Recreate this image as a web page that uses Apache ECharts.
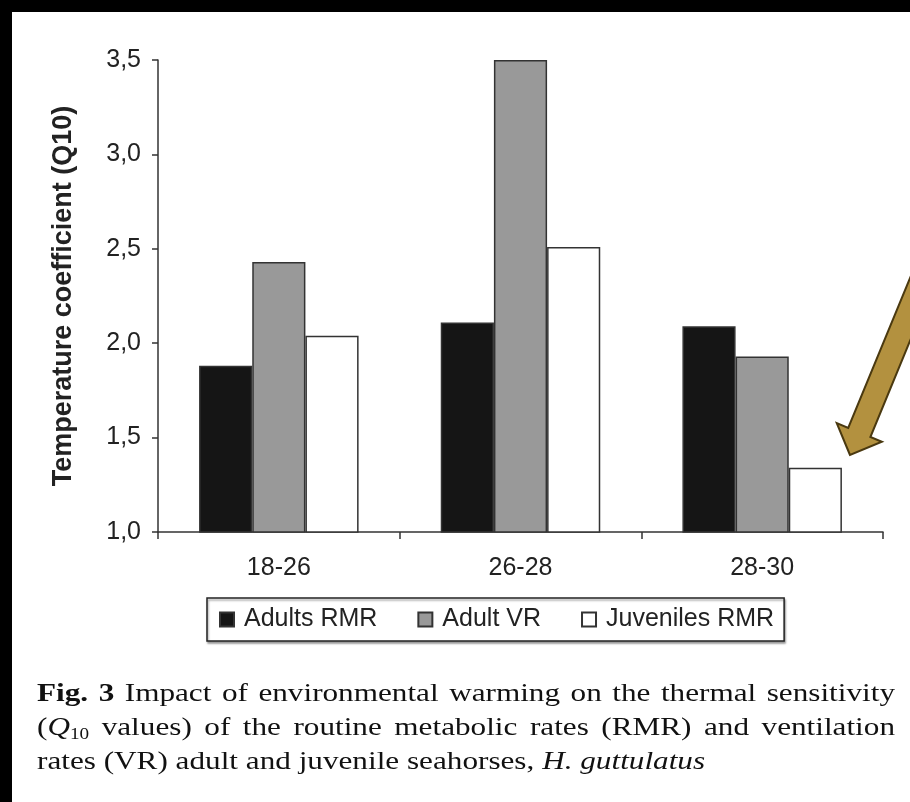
<!DOCTYPE html>
<html>
<head>
<meta charset="utf-8">
<script src="https://cdn.jsdelivr.net/npm/echarts@6/dist/echarts.min.js"></script>
<style>
  html, body { margin: 0; padding: 0; background: #fff; }
  #wrap { position: relative; width: 910px; height: 802px; overflow: hidden; }
  #chart { position: absolute; left: 0; top: 0; width: 910px; height: 802px; }
  .caption {
    position: absolute; left: 37px; width: 715px; top: 676px;
    transform: scaleX(1.2); transform-origin: 0 0;
    font-family: "Liberation Serif", "DejaVu Serif", serif;
    font-size: 26px; line-height: 34px; color: #111;
  }
  .caption div { white-space: nowrap; }
  .caption .j { text-align: justify; text-align-last: justify; white-space: normal; }
  .caption sub { font-size: 16px; vertical-align: -4px; line-height: 0; }
</style>
</head>
<body>
<div id="wrap">
  <div id="chart"></div>
  <div class="caption">
    <div class="j"><b>Fig. 3</b> Impact of environmental warming on the thermal sensitivity</div>
    <div class="j">(<i>Q</i><sub>10</sub> values) of the routine metabolic rates (RMR) and ventilation</div>
    <div>rates (VR) adult and juvenile seahorses, <i>H. guttulatus</i></div>
  </div>
</div>
<script>
// data
const categories = ['18-26', '26-28', '28-30']
const adultsRMR = [1.88, 2.11, 2.09]
const adultVR = [2.43, 3.50, 1.93]
const juvenilesRMR = [2.04, 2.51, 1.34]

const chart = echarts.init(document.getElementById('chart'))

// golden arrow pointing at the last juvenile bar
const tip = [850, 455]
const dir = [0.381, -0.924]
const nrm = [0.924, 0.381]
const headLen = 24.4, headHalf = 24.4, shaftHalf = 12, shaftLen = 200
const base = [tip[0] + dir[0] * headLen, tip[1] + dir[1] * headLen]
const tail = [base[0] + dir[0] * shaftLen, base[1] + dir[1] * shaftLen]
const arrowPts = [
  tip,
  [base[0] - nrm[0] * headHalf, base[1] - nrm[1] * headHalf],
  [base[0] - nrm[0] * shaftHalf, base[1] - nrm[1] * shaftHalf],
  [tail[0] - nrm[0] * shaftHalf, tail[1] - nrm[1] * shaftHalf],
  [tail[0] + nrm[0] * shaftHalf, tail[1] + nrm[1] * shaftHalf],
  [base[0] + nrm[0] * shaftHalf, base[1] + nrm[1] * shaftHalf],
  [base[0] + nrm[0] * headHalf, base[1] + nrm[1] * headHalf]
]

const barStyle = (color) => ({
  color: color,
  borderColor: '#333',
  borderWidth: 1.5
})

const option = {
  animation: false,
  backgroundColor: '#fff',
  textStyle: { fontFamily: '"Liberation Sans", Arial, sans-serif' },
  grid: { left: 158, right: 27, top: 60, bottom: 270 },
  legend: {
    left: 207,
    top: 598,
    padding: [9, 10, 9, 12],
    itemWidth: 14,
    itemHeight: 14,
    itemGap: 40,
    icon: 'rect',
    borderColor: '#222',
    borderWidth: 1.5,
    shadowColor: 'rgba(0,0,0,0.35)',
    shadowBlur: 2,
    shadowOffsetX: 1,
    shadowOffsetY: 2,
    backgroundColor: '#fff',
    textStyle: { fontSize: 25, color: '#222', padding: [0, 0, 0, 5] },
    data: ['Adults RMR', 'Adult VR', 'Juveniles RMR']
  },
  xAxis: {
    type: 'category',
    data: categories,
    axisLine: { lineStyle: { color: '#333', width: 1.5 } },
    axisTick: { show: true, length: 7, lineStyle: { color: '#333', width: 1.5 } },
    axisLabel: { fontSize: 25, color: '#222', margin: 24 }
  },
  yAxis: {
    type: 'value',
    min: 1,
    max: 3.5,
    interval: 0.5,
    name: 'Temperature coefficient (Q10)',
    nameLocation: 'middle',
    nameGap: 81,
    nameTextStyle: { fontSize: 27, fontWeight: 'bold', color: '#222' },
    splitLine: { show: false },
    axisLine: { show: true, lineStyle: { color: '#333', width: 1.5 } },
    axisTick: { show: true, length: 6, lineStyle: { color: '#333', width: 1.5 } },
    axisLabel: {
      fontSize: 25,
      color: '#222',
      margin: 17,
      formatter: v => v.toFixed(1).replace('.', ',')
    }
  },
  series: [
    { name: 'Adults RMR', type: 'bar', data: adultsRMR, barGap: '0%', barCategoryGap: '34%', itemStyle: barStyle('#151515') },
    { name: 'Adult VR', type: 'bar', data: adultVR, itemStyle: barStyle('#999999') },
    { name: 'Juveniles RMR', type: 'bar', data: juvenilesRMR, itemStyle: barStyle('#ffffff') }
  ],
  graphic: [
    { type: 'rect', left: 0, top: 0, shape: { width: 910, height: 12 }, style: { fill: '#000' }, z: 100 },
    { type: 'rect', left: 0, top: 0, shape: { width: 12, height: 802 }, style: { fill: '#000' }, z: 100 },
    {
      type: 'polygon',
      shape: { points: arrowPts },
      style: { fill: '#b3913f', stroke: '#4a3910', lineWidth: 2 },
      z: 90
    }
  ]
}
chart.setOption(option)
</script>
</body>
</html>
